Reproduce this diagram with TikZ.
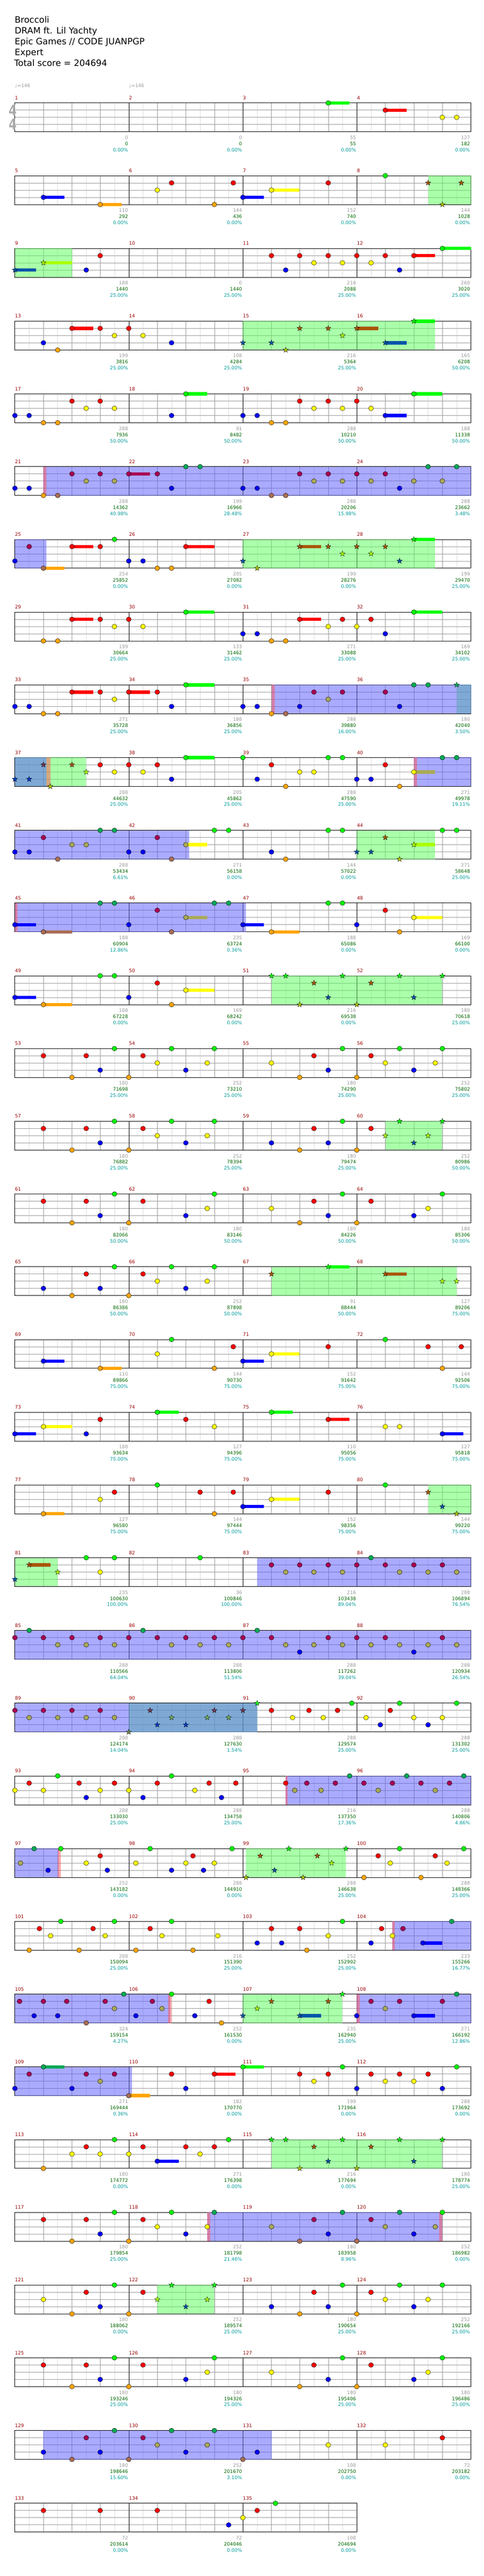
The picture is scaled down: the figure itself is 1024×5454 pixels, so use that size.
\documentclass[tikz,border=0pt]{standalone}
\usepackage{fontspec}
\setmainfont{DejaVu Sans}
\usetikzlibrary{shapes.geometric}
\definecolor{n0}{HTML}{00FF00}
\definecolor{n1}{HTML}{FF0000}
\definecolor{n2}{HTML}{FFFF00}
\definecolor{n3}{HTML}{0000FF}
\definecolor{n4}{HTML}{FFA500}
\definecolor{s0}{HTML}{00FF00}
\definecolor{s1}{HTML}{AA5500}
\definecolor{s2}{HTML}{AAFF00}
\definecolor{s3}{HTML}{0055AA}
\definecolor{s4}{HTML}{AAC300}
\definecolor{a0}{HTML}{00AA55}
\definecolor{a1}{HTML}{AA0055}
\definecolor{a2}{HTML}{AAAA55}
\definecolor{a3}{HTML}{0000FF}
\definecolor{a4}{HTML}{AA6E55}
\definecolor{t0}{HTML}{00AA55}
\definecolor{t1}{HTML}{713955}
\definecolor{t2}{HTML}{71AA55}
\definecolor{t3}{HTML}{0039C6}
\definecolor{t4}{HTML}{718255}
\definecolor{rB}{HTML}{5555FF}
\definecolor{rG}{HTML}{55FF55}
\definecolor{rP}{HTML}{FF5555}
\definecolor{lightgrid}{HTML}{DDDDDD}
\definecolor{gridgray}{HTML}{999999}
\definecolor{scgray}{HTML}{999999}
\definecolor{scgreen}{HTML}{006600}
\definecolor{scteal}{HTML}{009999}
\definecolor{mnumred}{HTML}{990000}
\definecolor{sigcol}{HTML}{AAAAAA}
\newcommand\txs{\fontsize{10}{12}\selectfont}
\tikzset{
  lightline/.style={draw=lightgrid,line width=0.8pt},
  beatline/.style={draw=gridgray,line width=0.8pt},
  measline/.style={draw=black,line width=0.9pt},
  starnote/.style={star,star points=5,star point ratio=2.4,minimum size=12pt,inner sep=0pt,draw=black,line width=0.4pt},
  scA/.style={anchor=base east,inner sep=0pt,font=\txs,text=scgray},
  scB/.style={anchor=base east,inner sep=0pt,font=\txs,text=scgreen},
  scC/.style={anchor=base east,inner sep=0pt,font=\txs,text=scteal},
  mnum/.style={anchor=base west,inner sep=0pt,font=\txs,text=mnumred},
  headtxt/.style={anchor=base west,inner sep=0pt,font=\fontsize{18.5}{22}\selectfont},
  tempo/.style={anchor=base west,inner sep=0pt,font=\txs,text=scgray},
  sig/.style={inner sep=0pt,font=\bfseries\fontsize{31}{31}\selectfont,text=sigcol,xscale=0.78}
}
\newcommand\staffgrid[1]{%
  \pgfmathsetmacro\rr{48+367.5*#1}%
  \pgfmathtruncatemacro\nlight{8*#1-1}%
  \pgfmathtruncatemacro\nbeat{4*#1-1}%
  \pgfmathtruncatemacro\nmeas{#1-1}%
  \foreach \j in {1,3,...,\nlight} {\draw[lightline] ({48+45.9375*\j},0) -- ++(0,-61);}
  \foreach \j in {1,...,\nbeat} {\draw[beatline] ({48+91.875*\j},0) -- ++(0,-61);}
  \foreach \yy in {-15.25,-30.5,-45.75} {\draw[beatline] (48,\yy) -- (\rr,\yy);}
  \foreach \j in {1,...,\nmeas} {\draw[measline] ({48+367.5*\j},0) -- ++(0,-61);}
  \draw[measline] (48,0) rectangle (\rr,-61);
}
\newcommand\rgs[1]{\foreach \xa/\xb/\col in {#1} {\fill[fill=\col,fill opacity=0.5] (\xa,0) rectangle (\xb,-61);}}
\newcommand\sss[1]{\foreach \lane/\xa/\xb/\col in {#1} {\fill[fill=\col] (\xa,{-15.25*\lane-3.5}) rectangle (\xb,{-15.25*\lane+3.5});}}
\newcommand\nts[1]{\foreach \lane/\xa/\col in {#1} {\filldraw[fill=\col,draw=black,line width=0.5pt] (\xa,{-15.25*\lane}) ellipse (5.2pt and 5pt);}}
\newcommand\sts[1]{\foreach \lane/\xa/\col in {#1} {\node[starnote,fill=\col] at (\xa,{-15.25*\lane}) {};}}
\newcommand\mnums[2]{\foreach \k in {1,...,#2} {\pgfmathtruncatemacro\mn{#1+\k-1}\node[mnum] at ({48+367.5*(\k-1)},7) {\mn};}}
\newcommand\scores[1]{\foreach \k/\sca/\scb/\scc in {#1} {%
  \node[scA] at ({48+367.5*\k-2.5},-77) {\sca};
  \node[scB] at ({48+367.5*\k-2.5},-90) {\scb};
  \node[scC] at ({48+367.5*\k-2.5},-103) {\scc};}}
\begin{document}
\begin{tikzpicture}[x=0.6565pt,y=1pt]
\useasboundingbox (0pt,0pt) rectangle (1024pt,-5454pt);
\node[headtxt] (title) at (31pt,-48.3pt) {Broccoli};
\node[headtxt] (artist) at (31pt,-71.3pt) {DRAM ft. Lil Yachty};
\node[headtxt] (charter) at (31pt,-94.3pt) {Epic Games // CODE JUANPGP};
\node[headtxt] (diff) at (31pt,-117.3pt) {Expert};
\node[headtxt] (total) at (30pt,-140.3pt) {Total score = 204694};
\node[tempo] (tempoA) at (48,-185) {♩=146};
\node[tempo] (tempoB) at (415.5,-185) {♩=146};
% row 0
\begin{scope}[yshift=-218pt]
\staffgrid{4}
\node[sig] (sigA) at (26.7pt,-15.3pt) {4};
\node[sig] (sigB) at (26.7pt,-45.3pt) {4};
\sss{0/1058/1127/n0,1/1242/1311/n1}
\nts{0/1058/n0,1/1242/n1,2/1426/n2,2/1472/n2}
\mnums{1}{4}
\scores{1/0/0/0.00\%,2/0/0/0.00\%,3/55/55/0.00\%,4/127/182/0.00\%}
\end{scope}
% row 1
\begin{scope}[yshift=-372pt]
\staffgrid{4}
\rgs{1380/1518/rG}
\sss{3/140/208/n3,4/323/392/n4,3/783/851/n3,2/875/966/n2}
\nts{3/140/n3,4/323/n4,2/507/n2,1/553/n1,4/691/n4,1/752/n1,3/783/n3,2/875/n2,1/1058/n1,0/1242/n0}
\sts{1/1380/s1,4/1426/s4,1/1487/s1}
\mnums{5}{4}
\scores{1/110/292/0.00\%,2/144/436/0.00\%,3/152/740/0.00\%,4/144/1028/0.00\%}
\end{scope}
% row 2
\begin{scope}[yshift=-526pt]
\staffgrid{4}
\rgs{48/232/rG}
\sss{3/48/116/s3,2/140/232/s2,1/1334/1403/n1,0/1426/1518/n0}
\nts{3/278/n3,1/323/n1,1/875/n1,3/921/n3,1/966/n1,2/1012/n2,1/1058/n1,2/1104/n2,1/1150/n1,2/1196/n2,1/1242/n1,3/1288/n3,1/1334/n1,0/1426/n0}
\sts{3/48/s3,2/140/s2}
\mnums{9}{4}
\scores{1/188/1440/25.00\%,2/0/1440/25.00\%,3/216/2088/25.00\%,4/260/3020/25.00\%}
\end{scope}
% row 3
\begin{scope}[yshift=-680pt]
\staffgrid{4}
\rgs{783/1403/rG}
\sss{1/232/300/n1,1/1150/1219/s1,3/1242/1311/s3,0/1334/1403/s0}
\nts{3/140/n3,4/186/n4,1/232/n1,1/323/n1,2/369/n2,1/415/n1,2/461/n2,3/553/n3}
\sts{3/783/s3,3/875/s3,4/921/s4,1/966/s1,1/1058/s1,2/1104/s2,1/1150/s1,3/1242/s3,0/1334/s0}
\mnums{13}{4}
\scores{1/199/3816/25.00\%,2/108/4284/25.00\%,3/216/5364/25.00\%,4/165/6208/50.00\%}
\end{scope}
% row 4
\begin{scope}[yshift=-834pt]
\staffgrid{4}
\sss{0/599/668/n0,3/1242/1311/n3,0/1334/1426/n0}
\nts{3/48/n3,3/94/n3,4/140/n4,4/186/n4,1/232/n1,2/278/n2,1/323/n1,2/369/n2,3/553/n3,0/599/n0,3/783/n3,3/829/n3,4/875/n4,4/921/n4,1/966/n1,2/1012/n2,1/1058/n1,2/1104/n2,1/1150/n1,2/1196/n2,3/1242/n3,0/1334/n0}
\mnums{17}{4}
\scores{1/288/7936/50.00\%,2/91/8482/50.00\%,3/288/10210/50.00\%,4/188/11338/50.00\%}
\end{scope}
% row 5
\begin{scope}[yshift=-988pt]
\staffgrid{4}
\rgs{140/1518/rB,140/150/rP}
\sss{1/415/484/a1}
\nts{3/48/n3,3/94/n3,4/140/n4,4/186/a4,1/232/a1,2/278/a2,1/323/a1,2/369/a2,1/415/a1,1/507/a1,3/553/a3,0/599/a0,0/645/a0,3/783/a3,3/829/a3,4/875/a4,4/921/a4,1/966/a1,2/1012/a2,1/1058/a1,2/1104/a2,1/1150/a1,2/1196/a2,1/1242/a1,3/1288/a3,2/1334/a2,0/1380/a0,2/1426/a2,0/1472/a0}
\mnums{21}{4}
\scores{1/288/14362/40.98\%,2/199/16966/28.48\%,3/288/20206/15.98\%,4/288/23662/3.48\%}
\end{scope}
% row 6
\begin{scope}[yshift=-1142pt]
\staffgrid{4}
\rgs{48/150/rB,783/1403/rG}
\sss{4/140/208/n4,1/232/300/n1,1/599/691/n1,1/966/1035/s1,0/1334/1403/s0}
\nts{3/48/a3,1/94/a1,4/140/a4,1/232/n1,1/323/n1,0/369/n0,3/415/n3,3/461/n3,4/507/n4,4/553/n4,1/599/n1}
\sts{3/783/s3,4/829/s4,1/966/s1,1/1058/s1,2/1104/s2,1/1150/s1,2/1196/s2,1/1242/s1,3/1288/s3,0/1334/s0}
\mnums{25}{4}
\scores{1/254/25852/0.00\%,2/205/27082/0.00\%,3/199/28276/0.00\%,4/199/29470/25.00\%}
\end{scope}
% row 7
\begin{scope}[yshift=-1296pt]
\staffgrid{4}
\sss{1/232/300/n1,0/599/691/n0,1/966/1035/n1,0/1334/1426/n0}
\nts{4/140/n4,4/186/n4,1/232/n1,1/323/n1,2/369/n2,1/415/n1,2/461/n2,0/599/n0,3/783/n3,3/829/n3,4/875/n4,4/921/n4,1/966/n1,2/1058/n2,1/1104/n1,2/1150/n2,1/1196/n1,3/1242/n3,0/1334/n0}
\mnums{29}{4}
\scores{1/199/30664/25.00\%,2/133/31462/25.00\%,3/271/33088/25.00\%,4/169/34102/25.00\%}
\end{scope}
% row 8
\begin{scope}[yshift=-1450pt]
\staffgrid{4}
\rgs{1472/1518/rG,875/1518/rB,875/885/rP}
\sss{1/232/300/n1,1/415/484/n1,0/599/691/n0}
\nts{3/48/n3,3/94/n3,4/140/n4,4/186/n4,1/232/n1,1/323/n1,2/369/n2,1/415/n1,1/507/n1,3/553/n3,0/599/n0,3/783/n3,3/829/n3,4/875/n4,4/921/a4,3/966/a3,1/1012/a1,2/1058/a2,1/1104/a1,1/1242/a1,3/1288/a3,0/1334/a0,0/1380/a0}
\sts{0/1472/t0}
\mnums{33}{4}
\scores{1/271/35728/25.00\%,2/188/36856/25.00\%,3/288/39880/16.00\%,4/180/42040/3.50\%}
\end{scope}
% row 9
\begin{scope}[yshift=-1604pt]
\staffgrid{4}
\rgs{48/278/rG,48/150/rB,150/162/rP,1334/1518/rB,1334/1344/rP}
\sss{0/599/691/n0,2/1334/1403/a2}
\nts{1/323/n1,2/369/n2,1/415/n1,2/461/n2,1/507/n1,3/553/n3,0/599/n0,0/783/n0,3/829/n3,1/875/n1,4/921/n4,2/966/n2,2/1012/n2,0/1058/n0,0/1104/n0,3/1150/n3,3/1196/n3,1/1242/n1,4/1288/n4,2/1334/n2,0/1426/a0,0/1472/a0}
\sts{3/48/t3,3/94/t3,1/140/t1,4/162/s4,1/232/s1,2/278/s2}
\mnums{37}{4}
\scores{1/288/44632/25.00\%,2/205/45862/25.00\%,3/288/47590/25.00\%,4/271/49978/19.11\%}
\end{scope}
% row 10
\begin{scope}[yshift=-1758pt]
\staffgrid{4}
\rgs{48/609/rB,1150/1403/rG}
\sss{2/599/668/n2,2/1334/1403/s2}
\nts{3/48/a3,3/94/a3,1/140/a1,4/186/a4,2/232/a2,2/278/a2,0/323/a0,0/369/a0,3/415/a3,3/461/a3,1/507/a1,4/553/a4,2/599/a2,0/691/n0,0/737/n0,3/875/n3,4/921/n4,0/1058/n0,0/1104/n0,0/1426/n0,0/1472/n0}
\sts{3/1150/s3,3/1196/s3,1/1242/s1,4/1288/s4,2/1334/s2}
\mnums{41}{4}
\scores{1/288/53434/6.61\%,2/271/56158/0.00\%,3/144/57022/0.00\%,4/271/58648/25.00\%}
\end{scope}
% row 11
\begin{scope}[yshift=-1912pt]
\staffgrid{4}
\rgs{48/793/rB,48/57/rP}
\sss{3/48/116/n3,4/140/232/a4,2/599/668/a2,3/783/851/n3,4/875/966/n4,2/1334/1426/n2}
\nts{3/48/n3,4/140/a4,0/323/a0,0/369/a0,3/415/a3,1/507/a1,4/553/a4,2/599/a2,0/691/a0,0/737/a0,3/783/n3,4/875/n4,0/1058/n0,0/1104/n0,3/1150/n3,1/1242/n1,4/1288/n4,2/1334/n2}
\mnums{45}{4}
\scores{1/188/60904/12.86\%,2/235/63724/0.36\%,3/188/65086/0.00\%,4/169/66100/0.00\%}
\end{scope}
% row 12
\begin{scope}[yshift=-2066pt]
\staffgrid{4}
\rgs{875/1426/rG}
\sss{3/48/116/n3,4/140/232/n4,2/599/691/n2}
\nts{3/48/n3,4/140/n4,0/323/n0,0/369/n0,3/415/n3,1/507/n1,4/553/n4,2/599/n2}
\sts{0/875/s0,0/921/s0,4/966/s4,1/1012/s1,3/1058/s3,0/1104/s0,4/1150/s4,1/1196/s1,0/1288/s0,3/1334/s3,0/1426/s0}
\mnums{49}{4}
\scores{1/188/67228/0.00\%,2/169/68242/0.00\%,3/216/69538/0.00\%,4/180/70618/25.00\%}
\end{scope}
% row 13
\begin{scope}[yshift=-2220pt]
\staffgrid{4}
\nts{1/140/n1,4/232/n4,1/278/n1,3/323/n3,0/369/n0,4/415/n4,1/461/n1,2/507/n2,0/553/n0,3/599/n3,2/668/n2,0/691/n0,2/875/n2,4/966/n4,1/1012/n1,3/1058/n3,0/1104/n0,4/1150/n4,1/1196/n1,2/1242/n2,0/1288/n0,3/1334/n3,2/1403/n2,0/1426/n0}
\mnums{53}{4}
\scores{1/180/71698/25.00\%,2/252/73210/25.00\%,3/180/74290/25.00\%,4/252/75802/25.00\%}
\end{scope}
% row 14
\begin{scope}[yshift=-2374pt]
\staffgrid{4}
\rgs{1242/1426/rG}
\nts{1/140/n1,4/232/n4,1/278/n1,3/323/n3,0/369/n0,4/415/n4,1/461/n1,2/507/n2,0/553/n0,3/599/n3,2/668/n2,0/691/n0,3/875/n3,4/966/n4,1/1012/n1,3/1058/n3,0/1104/n0,4/1150/n4,1/1196/n1}
\sts{2/1242/s2,0/1288/s0,3/1334/s3,2/1380/s2,0/1426/s0}
\mnums{57}{4}
\scores{1/180/76882/25.00\%,2/252/78394/25.00\%,3/180/79474/25.00\%,4/252/80986/50.00\%}
\end{scope}
% row 15
\begin{scope}[yshift=-2528pt]
\staffgrid{4}
\nts{1/140/n1,4/232/n4,1/278/n1,3/323/n3,0/369/n0,4/415/n4,1/461/n1,3/599/n3,2/668/n2,0/691/n0,2/875/n2,4/966/n4,1/1012/n1,3/1058/n3,0/1104/n0,4/1150/n4,1/1196/n1,3/1334/n3,2/1380/n2,0/1426/n0}
\mnums{61}{4}
\scores{1/180/82066/50.00\%,2/180/83146/50.00\%,3/180/84226/50.00\%,4/180/85306/50.00\%}
\end{scope}
% row 16
\begin{scope}[yshift=-2682pt]
\staffgrid{4}
\rgs{875/1472/rG}
\sss{0/1058/1127/s0,1/1242/1311/s1}
\nts{3/140/n3,4/232/n4,1/278/n1,3/323/n3,0/369/n0,4/415/n4,1/461/n1,2/507/n2,0/553/n0,3/599/n3,2/668/n2,0/691/n0}
\sts{1/875/s1,0/1058/s0,1/1242/s1,2/1426/s2,2/1472/s2}
\mnums{65}{4}
\scores{1/180/86386/50.00\%,2/252/87898/50.00\%,3/91/88444/50.00\%,4/127/89206/75.00\%}
\end{scope}
% row 17
\begin{scope}[yshift=-2836pt]
\staffgrid{4}
\sss{3/140/208/n3,4/323/392/n4,3/783/851/n3,2/875/966/n2}
\nts{3/140/n3,4/323/n4,2/507/n2,0/553/n0,4/691/n4,1/752/n1,3/783/n3,2/875/n2,1/1058/n1,0/1242/n0,1/1380/n1,4/1426/n4,1/1487/n1}
\mnums{69}{4}
\scores{1/110/89866/75.00\%,2/144/90730/75.00\%,3/152/91642/75.00\%,4/144/92506/75.00\%}
\end{scope}
% row 18
\begin{scope}[yshift=-2990pt]
\staffgrid{4}
\sss{3/48/116/n3,2/140/232/n2,0/507/576/n0,0/875/943/n0,1/1058/1127/n1,3/1426/1494/n3}
\nts{3/48/n3,2/140/n2,3/278/n3,1/323/n1,0/507/n0,1/599/n1,2/691/n2,0/875/n0,1/1058/n1,2/1242/n2,2/1288/n2,3/1426/n3}
\mnums{73}{4}
\scores{1/188/93634/75.00\%,2/127/94396/75.00\%,3/110/95056/75.00\%,4/127/95818/75.00\%}
\end{scope}
% row 19
\begin{scope}[yshift=-3144pt]
\staffgrid{4}
\rgs{1380/1518/rG}
\sss{4/140/208/n4,3/783/851/n3,2/875/966/n2}
\nts{4/140/n4,2/323/n2,1/369/n1,0/507/n0,1/645/n1,4/691/n4,1/752/n1,3/783/n3,2/875/n2,1/1058/n1,0/1242/n0}
\sts{1/1380/s1,3/1426/s3,4/1472/s4}
\mnums{77}{4}
\scores{1/127/96580/75.00\%,2/144/97444/75.00\%,3/152/98356/75.00\%,4/144/99220/75.00\%}
\end{scope}
% row 20
\begin{scope}[yshift=-3298pt]
\staffgrid{4}
\rgs{48/186/rG,829/1518/rB}
\sss{1/94/162/s1}
\nts{0/278/n0,2/323/n2,0/369/n0,0/645/n0,1/875/a1,2/921/a2,1/966/a1,2/1012/a2,1/1058/a1,2/1104/a2,1/1150/a1,0/1196/a0,1/1242/a1,2/1288/a2,1/1334/a1,2/1380/a2,1/1426/a1,2/1472/a2}
\sts{3/48/s3,1/94/s1,2/186/s2}
\mnums{81}{4}
\scores{1/235/100630/100.00\%,2/36/100846/100.00\%,3/216/103438/89.04\%,4/288/106894/76.54\%}
\end{scope}
% row 21
\begin{scope}[yshift=-3452pt]
\staffgrid{4}
\rgs{48/1518/rB}
\nts{1/48/a1,0/94/a0,1/140/a1,2/186/a2,1/232/a1,2/278/a2,1/323/a1,2/369/a2,1/415/a1,0/461/a0,1/507/a1,2/553/a2,1/599/a1,2/645/a2,1/691/a1,2/737/a2,1/783/a1,0/829/a0,1/875/a1,2/921/a2,3/966/a3,2/1012/a2,1/1058/a1,2/1104/a2,1/1150/a1,2/1196/a2,1/1242/a1,2/1288/a2,3/1334/a3,2/1380/a2,1/1426/a1,2/1472/a2}
\mnums{85}{4}
\scores{1/288/110566/64.04\%,2/288/113806/51.54\%,3/288/117262/39.04\%,4/288/120934/26.54\%}
\end{scope}
% row 22
\begin{scope}[yshift=-3606pt]
\staffgrid{4}
\rgs{415/829/rG,48/829/rB}
\nts{1/48/a1,2/94/a2,1/140/a1,2/186/a2,1/232/a1,2/278/a2,1/323/a1,2/369/a2,1/875/n1,2/943/n2,1/996/n1,2/1042/n2,1/1088/n1,0/1134/n0,2/1180/n2,3/1226/n3,1/1258/n1,0/1288/n0,2/1334/n2,3/1380/n3,2/1426/n2,0/1472/n0}
\sts{4/415/t4,1/484/t1,3/507/t3,2/553/t2,3/599/t3,2/668/t2,1/691/t1,2/737/t2,1/783/t1,0/829/s0}
\mnums{89}{4}
\scores{1/288/124174/14.04\%,2/288/127630/1.54\%,3/288/129574/25.00\%,4/288/131302/25.00\%}
\end{scope}
% row 23
\begin{scope}[yshift=-3760pt]
\staffgrid{4}
\rgs{921/1518/rB,921/927/rP}
\nts{2/48/n2,1/94/n1,2/140/n2,0/186/n0,1/255/n1,3/278/n3,2/323/n2,1/369/n1,2/415/n2,3/461/n3,1/507/n1,0/553/n0,2/628/n2,1/674/n1,3/714/n3,1/760/n1,1/921/n1,2/950/a2,1/989/a1,2/1035/a2,1/1081/a1,0/1127/a0,1/1173/a1,2/1219/a2,1/1265/a1,0/1311/a0,1/1357/a1,2/1403/a2,1/1449/a1,0/1495/a0}
\mnums{93}{4}
\scores{1/288/133030/25.00\%,2/288/134758/25.00\%,3/216/137350/17.36\%,4/288/140806/4.86\%}
\end{scope}
% row 24
\begin{scope}[yshift=-3914pt]
\staffgrid{4}
\rgs{48/190/rB,186/196/rP,793/1115/rG}
\nts{2/66/a2,0/110/a0,3/155/a3,0/196/n0,2/278/n2,1/323/n1,3/346/n3,2/438/n2,0/484/n0,3/553/n3,2/599/n2,1/622/n1,3/656/n3,2/691/n2,0/748/n0,4/1173/n4,1/1219/n1,2/1258/n2,0/1288/n0,4/1357/n4,1/1403/n1,2/1441/n2,0/1495/n0}
\sts{4/793/s4,1/839/s1,3/885/s3,0/931/s0,4/977/s4,1/1023/s1,2/1069/s2,0/1115/s0}
\mnums{97}{4}
\scores{1/252/143182/0.00\%,2/288/144910/0.00\%,3/288/146638/25.00\%,4/288/148366/25.00\%}
\end{scope}
% row 25
\begin{scope}[yshift=-4068pt]
\staffgrid{4}
\rgs{1265/1518/rB,1265/1273/rP}
\sss{3/1363/1426/a3}
\nts{4/94/n4,1/127/n1,2/163/n2,0/196/n0,4/255/n4,1/300/n1,2/339/n2,0/369/n0,4/438/n4,1/484/n1,2/522/n2,0/553/n0,4/622/n4,2/702/n2,3/829/n3,1/875/n1,3/908/n3,1/966/n1,4/989/n4,2/1058/n2,0/1104/n0,3/1196/n3,1/1230/n1,2/1265/n2,1/1299/a1,3/1363/a3,0/1456/a0}
\mnums{101}{4}
\scores{1/288/150094/25.00\%,2/216/151390/25.00\%,3/252/152902/25.00\%,4/233/155266/16.77\%}
\end{scope}
% row 26
\begin{scope}[yshift=-4222pt]
\staffgrid{4}
\rgs{48/548/rB,541/553/rP,783/1104/rG,1150/1518/rB,1150/1160/rP}
\sss{3/966/1035/s3,3/1334/1403/a3}
\nts{1/63/a1,3/110/a3,1/140/a1,3/186/a3,1/215/a1,4/278/a4,1/339/a1,2/369/a2,0/399/a0,3/438/a3,1/491/a1,2/522/a2,0/553/n0,3/628/n3,1/674/n1,4/714/n4,3/1150/a3,1/1196/a1,2/1242/a2,1/1288/a1,3/1334/a3,1/1426/a1,0/1472/a0}
\sts{3/783/s3,2/829/s2,1/875/s1,3/966/s3,1/1058/s1,0/1104/s0}
\mnums{105}{4}
\scores{1/324/159154/4.27\%,2/252/161530/0.00\%,3/235/162940/25.00\%,4/271/166192/12.86\%}
\end{scope}
% row 27
\begin{scope}[yshift=-4376pt]
\staffgrid{4}
\rgs{48/425/rB}
\sss{0/140/208/a0,4/415/484/n4,1/691/759/n1,0/783/851/n0}
\nts{3/48/a3,1/94/a1,0/140/a0,3/232/a3,1/278/a1,2/323/a2,1/369/a1,4/415/a4,1/553/n1,3/599/n3,1/691/n1,0/783/n0,1/966/n1,2/1012/n2,1/1058/n1,0/1104/n0,3/1150/n3,1/1196/n1,2/1242/n2,1/1288/n1,2/1334/n2,1/1380/n1,3/1426/n3,0/1472/n0}
\mnums{109}{4}
\scores{1/271/169444/0.36\%,2/182/170770/0.00\%,3/199/171964/0.00\%,4/288/173692/0.00\%}
\end{scope}
% row 28
\begin{scope}[yshift=-4530pt]
\staffgrid{4}
\rgs{875/1426/rG}
\sss{3/507/576/n3}
\nts{4/140/n4,2/232/n2,1/278/n1,2/323/n2,0/369/n0,2/415/n2,1/461/n1,3/507/n3,1/599/n1,2/645/n2,1/691/n1,0/737/n0}
\sts{0/875/s0,0/921/s0,4/966/s4,1/1012/s1,3/1058/s3,0/1104/s0,4/1150/s4,1/1196/s1,0/1288/s0,3/1334/s3,0/1426/s0}
\mnums{113}{4}
\scores{1/180/174772/0.00\%,2/271/176398/0.00\%,3/216/177694/0.00\%,4/180/178774/25.00\%}
\end{scope}
% row 29
\begin{scope}[yshift=-4684pt]
\staffgrid{4}
\rgs{668/1426/rB,668/678/rP,1416/1426/rP}
\nts{1/140/n1,4/232/n4,1/278/n1,3/323/n3,0/369/n0,4/415/n4,1/461/n1,2/507/n2,0/553/n0,3/599/n3,2/668/n2,0/691/a0,2/875/a2,4/966/a4,1/1012/a1,3/1058/a3,0/1104/a0,4/1150/a4,1/1196/a1,2/1242/a2,0/1288/a0,3/1334/a3,2/1403/a2,0/1426/n0}
\mnums{117}{4}
\scores{1/180/179854/25.00\%,2/252/181798/21.46\%,3/180/183958/8.96\%,4/252/186982/0.00\%}
\end{scope}
% row 30
\begin{scope}[yshift=-4838pt]
\staffgrid{4}
\rgs{507/691/rG}
\nts{2/140/n2,4/232/n4,1/278/n1,3/323/n3,0/369/n0,4/415/n4,1/461/n1,3/875/n3,4/966/n4,1/1012/n1,3/1058/n3,0/1104/n0,4/1150/n4,1/1196/n1,2/1242/n2,0/1288/n0,3/1334/n3,2/1380/n2,0/1426/n0}
\sts{2/507/s2,0/553/s0,3/599/s3,2/668/s2,0/691/s0}
\mnums{121}{4}
\scores{1/180/188062/0.00\%,2/252/189574/25.00\%,3/180/190654/25.00\%,4/252/192166/25.00\%}
\end{scope}
% row 31
\begin{scope}[yshift=-4992pt]
\staffgrid{4}
\nts{1/140/n1,4/232/n4,1/278/n1,3/323/n3,0/369/n0,4/415/n4,1/461/n1,3/599/n3,2/668/n2,0/691/n0,2/875/n2,4/966/n4,1/1012/n1,3/1058/n3,0/1104/n0,4/1150/n4,1/1196/n1,3/1334/n3,2/1380/n2,0/1426/n0}
\mnums{125}{4}
\scores{1/180/193246/25.00\%,2/180/194326/25.00\%,3/180/195406/25.00\%,4/180/196486/25.00\%}
\end{scope}
% row 32
\begin{scope}[yshift=-5146pt]
\staffgrid{4}
\rgs{140/875/rB}
\nts{3/140/n3,4/232/a4,1/278/a1,3/323/a3,0/369/a0,4/415/a4,1/461/a1,2/507/a2,0/553/a0,3/599/a3,2/668/a2,0/691/a0,4/783/a4,3/829/a3,2/1058/n2,2/1242/n2,1/1426/n1}
\mnums{129}{4}
\scores{1/180/198646/15.60\%,2/252/201670/3.10\%,3/108/202750/0.00\%,4/72/203182/0.00\%}
\end{scope}
% row 33
\begin{scope}[yshift=-5300pt]
\staffgrid{3}
\nts{1/140/n1,1/323/n1,1/507/n1,3/737/n3,2/783/n2,1/829/n1,0/888/n0}
\mnums{133}{3}
\scores{1/72/203614/0.00\%,2/72/204046/0.00\%,3/108/204694/0.00\%}
\end{scope}
\end{tikzpicture}
\end{document}
